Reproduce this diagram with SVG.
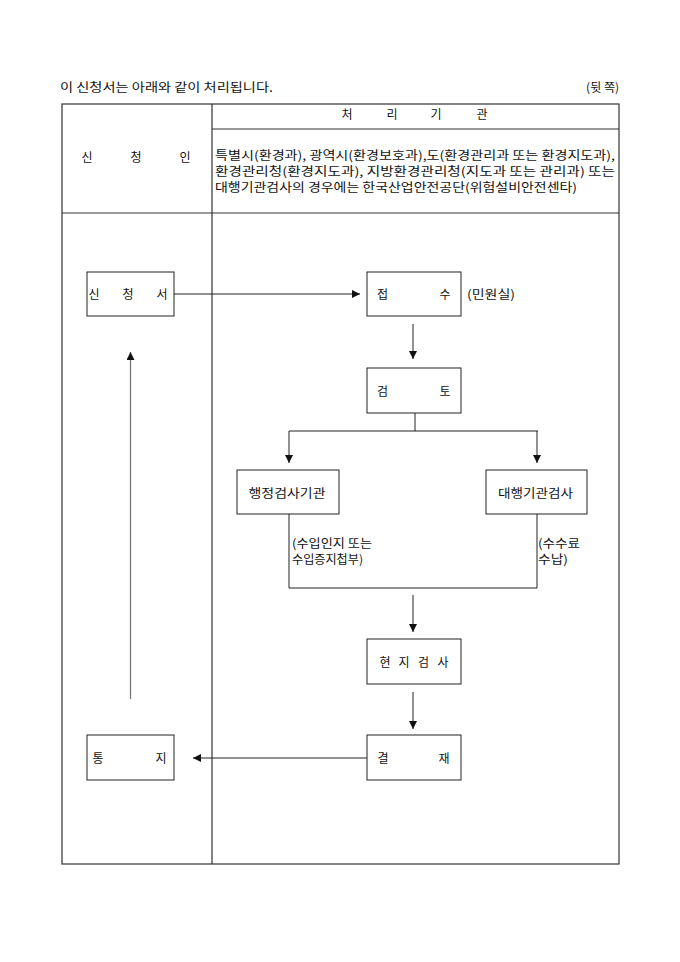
<svg xmlns="http://www.w3.org/2000/svg" width="680" height="962" viewBox="0 0 680 962">
<defs>
<style>
text{font-family:"Noto Sans CJK KR","Noto Sans CJK SC",sans-serif;font-size:12px;fill:#111}
.c{text-anchor:middle}
.box{fill:#fff;stroke:#222;stroke-width:1}
.ln{fill:none;stroke:#222;stroke-width:1}
.tb{fill:none;stroke:#333;stroke-width:1.2}
</style>
<marker id="ah" viewBox="0 0 10 10" refX="10" refY="5" markerWidth="8" markerHeight="8" markerUnits="userSpaceOnUse" orient="auto">
<path d="M0,0 L10,5 L0,10 z" fill="#111"/>
</marker>
</defs>
<rect width="680" height="962" fill="#fff"/>
<g id="header">
<text x="60" y="92" textLength="213" lengthAdjust="spacingAndGlyphs">이 신청서는 아래와 같이 처리됩니다.</text>
<text x="619" y="92" text-anchor="end">(뒷 쪽)</text>
</g>
<g id="table">
<rect class="tb" x="62" y="104" width="557" height="760"/>
<line class="tb" x1="212" y1="104" x2="212" y2="864"/>
<line class="tb" x1="212" y1="129" x2="619" y2="129"/>
<line class="tb" x1="62" y1="213" x2="619" y2="213"/>
<text class="c" x="87" y="162">신</text>
<text class="c" x="136" y="162">청</text>
<text class="c" x="185" y="162">인</text>
<text class="c" x="347" y="119">처</text>
<text class="c" x="392" y="119">리</text>
<text class="c" x="436" y="119">기</text>
<text class="c" x="482" y="119">관</text>
<text x="215" y="160" textLength="400" lengthAdjust="spacingAndGlyphs">특별시(환경과), 광역시(환경보호과),도(환경관리과 또는 환경지도과),</text>
<text x="215" y="176" textLength="400" lengthAdjust="spacingAndGlyphs">환경관리청(환경지도과), 지방환경관리청(지도과 또는 관리과) 또는</text>
<text x="215" y="192" textLength="362" lengthAdjust="spacingAndGlyphs">대행기관검사의 경우에는 한국산업안전공단(위험설비안전센타)</text>
</g>
<g id="connectors">
<line class="ln" x1="174" y1="294" x2="360" y2="294" marker-end="url(#ah)"/>
<line class="ln" x1="413" y1="324" x2="413" y2="359" marker-end="url(#ah)"/>
<polyline class="ln" points="415,413 415,431"/>
<line class="ln" x1="289" y1="431" x2="538" y2="431"/>
<line class="ln" x1="289" y1="431" x2="289" y2="463" marker-end="url(#ah)"/>
<line class="ln" x1="537" y1="431" x2="537" y2="463" marker-end="url(#ah)"/>
<polyline class="ln" points="289,514 289,588 537,588 537,514"/>
<line class="ln" x1="413" y1="595" x2="413" y2="632" marker-end="url(#ah)"/>
<line class="ln" x1="413" y1="692" x2="413" y2="729" marker-end="url(#ah)"/>
<line class="ln" x1="367" y1="758" x2="193" y2="758" marker-end="url(#ah)"/>
<line x1="130.5" y1="699" x2="130.5" y2="352" stroke="#777" stroke-width="1.3" marker-end="url(#ah)"/>
</g>
<g id="n-sincheongseo">
<rect class="box" x="87" y="272" width="87" height="44"/>
<text class="c" x="94" y="298.5">신</text>
<text class="c" x="128" y="298.5">청</text>
<text class="c" x="162" y="298.5">서</text>
</g>
<g id="n-jeopsu">
<rect class="box" x="367" y="272" width="94" height="44"/>
<text class="c" x="382.5" y="298.5">접</text>
<text class="c" x="445" y="298.5">수</text>
<text x="467" y="298.5" textLength="48" lengthAdjust="spacingAndGlyphs">(민원실)</text>
</g>
<g id="n-geomto">
<rect class="box" x="367" y="368" width="94" height="45"/>
<text class="c" x="382.5" y="395.5">검</text>
<text class="c" x="445" y="395.5">토</text>
</g>
<g id="n-haengjeong">
<rect class="box" x="237" y="470" width="102" height="44"/>
<text class="c" x="287" y="497.5" textLength="77" lengthAdjust="spacingAndGlyphs">행정검사기관</text>
<text x="292" y="548" textLength="80" lengthAdjust="spacingAndGlyphs">(수입인지 또는</text>
<text x="292" y="564" textLength="71" lengthAdjust="spacingAndGlyphs">수입증지첩부)</text>
</g>
<g id="n-daehaeng">
<rect class="box" x="486" y="470" width="101" height="44"/>
<text class="c" x="535.5" y="497.5" textLength="75" lengthAdjust="spacingAndGlyphs">대행기관검사</text>
<text x="538" y="548" textLength="42" lengthAdjust="spacingAndGlyphs">(수수료</text>
<text x="538" y="564" textLength="30" lengthAdjust="spacingAndGlyphs">수납)</text>
</g>
<g id="n-hyeonji">
<rect class="box" x="367" y="639" width="94" height="45"/>
<text class="c" x="385" y="667">현</text>
<text class="c" x="404" y="667">지</text>
<text class="c" x="423.5" y="667">검</text>
<text class="c" x="443" y="667">사</text>
</g>
<g id="n-gyeoljae">
<rect class="box" x="367" y="735" width="94" height="45"/>
<text class="c" x="383" y="762.5">결</text>
<text class="c" x="444" y="762.5">재</text>
</g>
<g id="n-tongji">
<rect class="box" x="87" y="735" width="87" height="45"/>
<text class="c" x="98" y="762.5">통</text>
<text class="c" x="161" y="762.5">지</text>
</g>
</svg>
